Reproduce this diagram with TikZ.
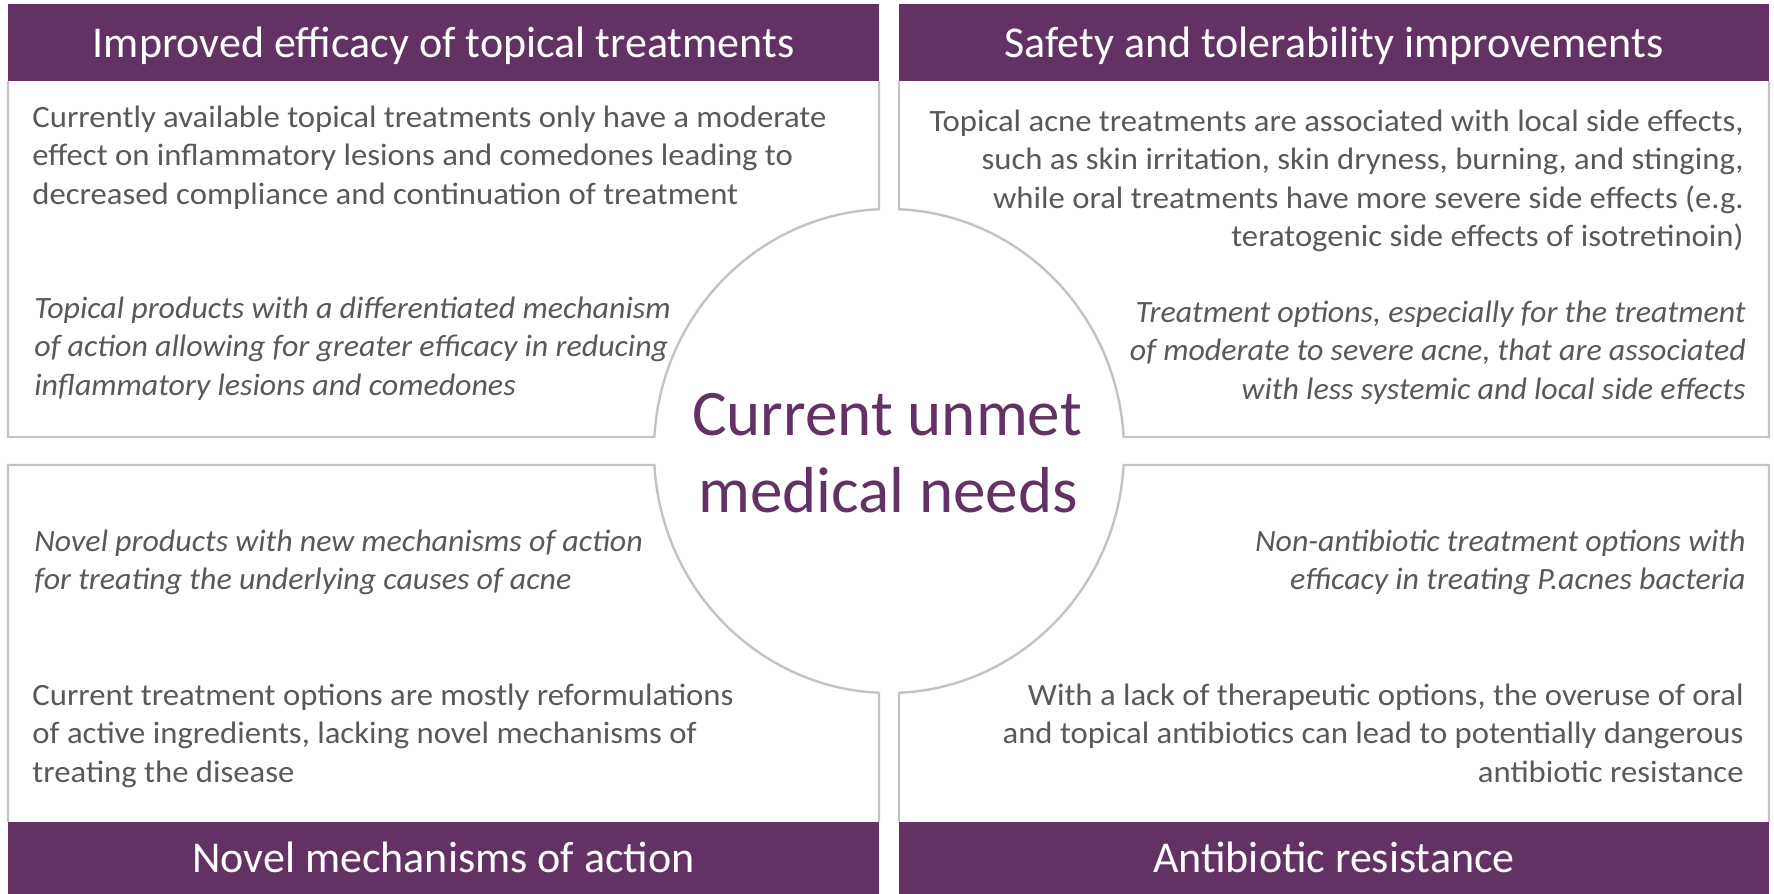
\documentclass[tikz,border=0pt]{standalone}
\usepackage{fontspec}
\setmainfont{Carlito}
\newfontfamily\regbody{Carlito}[FakeStretch=1.055]
\newfontfamily\itbody{Carlito Italic}[FakeStretch=1.03]
\definecolor{hdr}{HTML}{633163}
\definecolor{bordergray}{HTML}{C3C3C3}
\definecolor{txt}{HTML}{595959}
\newcommand\bodyfont{\fontsize{15.5}{19.25}\selectfont}
\newcommand\leftpara[1]{\parbox[t]{440pt}{\bodyfont\raggedright #1}}
\newcommand\rightpara[1]{\parbox[t]{440pt}{\bodyfont\raggedleft #1}}
\tikzset{
  hdrbox/.style={fill=hdr, draw=none},
  boxline/.style={draw=bordergray, line width=1.2pt, fill=white, line join=miter},
  hdrtext/.style={text=white, font=\fontsize{22}{26}\selectfont, inner sep=0pt, anchor=base},
  bodyl/.style={anchor=base west, inner sep=0pt, text=txt},
  bodyr/.style={anchor=base east, inner sep=0pt, text=txt},
  centertext/.style={anchor=base, inner sep=0pt, text=hdr, font=\fontsize{32.5}{38.5}\selectfont},
}
\begin{document}
\begin{tikzpicture}[x=0.5pt, y=-0.5pt]
\useasboundingbox (0,0) rectangle (1774,894);
% box outlines (cut by the central ellipse)
\draw[boxline] (8,81) -- (8,437) -- (654.4,437)
  arc[start angle=183.32, end angle=267.56, x radius=235, y radius=242] -- (879,81);
\draw[boxline] (1769,81) -- (1769,437) -- (1123.6,437)
  arc[start angle=356.68, end angle=272.44, x radius=235, y radius=242] -- (899,81);
\draw[boxline] (8,822) -- (8,465) -- (654.4,465)
  arc[start angle=176.68, end angle=92.44, x radius=235, y radius=242] -- (879,822);
\draw[boxline] (1769,822) -- (1769,465) -- (1123.6,465)
  arc[start angle=3.32, end angle=87.56, x radius=235, y radius=242] -- (899,822);
% headers
\fill[hdrbox] (8,4) rectangle (879,81);
\fill[hdrbox] (899,4) rectangle (1769,81);
\fill[hdrbox] (8,822) rectangle (879,894);
\fill[hdrbox] (899,822) rectangle (1769,894);
\node[hdrtext] (h1) at (443.5,57) {Improved efficacy of topical treatments};
\node[hdrtext] (h2) at (1334,57) {Safety and tolerability improvements};
\node[hdrtext] (h3) at (443.5,872) {Novel mechanisms of action};
\node[hdrtext] (h4) at (1334,872) {Antibiotic resistance};
% body texts
\node[bodyl] (tl1) at (32,127) {\leftpara{\regbody Currently available topical treatments only have a moderate\\effect on inflammatory lesions and comedones leading to\\decreased compliance and continuation of treatment}};
\node[bodyl] (tl2) at (34,318) {\leftpara{\itbody Topical products with a differentiated mechanism\\of action allowing for greater efficacy in reducing\\inflammatory lesions and comedones}};
\node[bodyr] (tr1) at (1744,131) {\rightpara{\regbody Topical acne treatments are associated with local side effects,\\such as skin irritation, skin dryness, burning, and stinging,\\while oral treatments have more severe side effects (e.g.\\teratogenic side effects of isotretinoin)}};
\node[bodyr] (tr2) at (1746,322) {\rightpara{\itbody Treatment options, especially for the treatment\\of moderate to severe acne, that are associated\\with less systemic and local side effects}};
\node[bodyl] (bl1) at (34,551) {\leftpara{\itbody Novel products with new mechanisms of action\\for treating the underlying causes of acne}};
\node[bodyl] (bl2) at (32,705) {\leftpara{\regbody Current treatment options are mostly reformulations\\of active ingredients, lacking novel mechanisms of\\treating the disease}};
\node[bodyr] (br1) at (1746,551) {\rightpara{\itbody Non-antibiotic treatment options with\\efficacy in treating P.acnes bacteria}};
\node[bodyr] (br2) at (1744,705) {\rightpara{\regbody With a lack of therapeutic options, the overuse of oral\\and topical antibiotics can lead to potentially dangerous\\antibiotic resistance}};
% centre
\node[centertext] (c1) at (887,435) {Current unmet};
\node[centertext] (c2) at (888,512) {medical needs};
\end{tikzpicture}
\end{document}
